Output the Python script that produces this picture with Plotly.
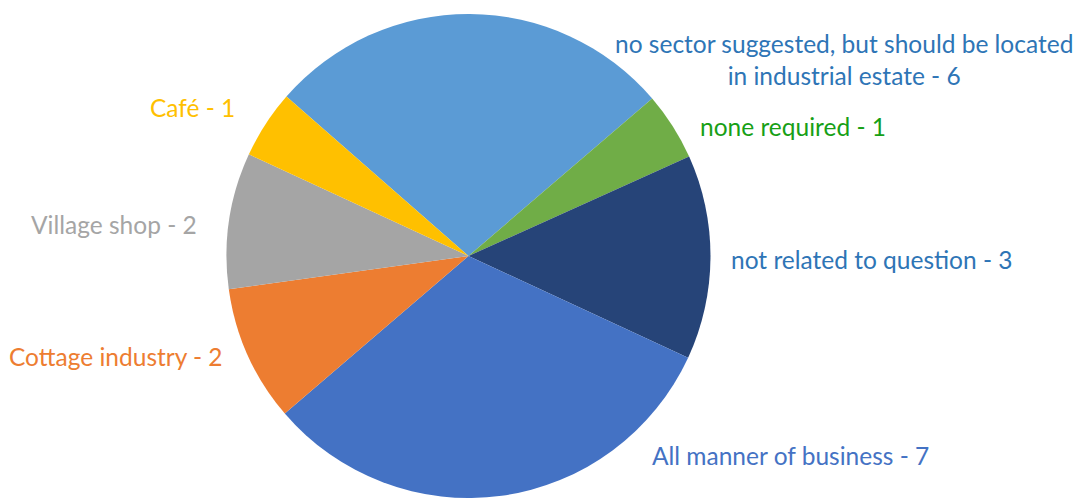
import plotly.graph_objects as go

labels = ["no sector suggested, but should be located<br>in industrial estate",
          "none required", "not related to question", "All manner of business",
          "Cottage industry", "Village shop", "Café"]
values = [6, 1, 3, 7, 2, 2, 1]
slice_colors = ["#5B9BD5", "#70AD47", "#264478", "#4472C4", "#ED7D31", "#A5A5A5", "#FFC000"]
text_colors = ["#2E75B6", "#17A016", "#2E75B6", "#4472C4", "#ED7D31", "#A5A5A5", "#FFC000"]
label_pos = [(844, 59), (793, 126), (872, 259), (790, 455), (116, 356), (114, 224), (192, 107)]

W, H = 1078, 498
fig = go.Figure(go.Pie(
    labels=labels, values=values, sort=False, direction="clockwise",
    rotation=-48.8, textinfo="none", hoverinfo="label+value",
    marker=dict(colors=slice_colors, line=dict(width=0)),
    domain=dict(x=[(468.5 - 242) / W, (468.5 + 242) / W], y=[0, 1 - 14 / H]),
    showlegend=False,
))

for lab, val, col, (px, py) in zip(labels, values, text_colors, label_pos):
    fig.add_annotation(text=f"{lab} - {val}", x=px / W, y=1 - py / H, xref="paper", yref="paper",
                       xanchor="center", yanchor="middle", showarrow=False,
                       font=dict(family="Lato", size=24.5, color=col), align="center")

fig.update_layout(width=W, height=H, margin=dict(l=0, r=0, t=0, b=0),
                  paper_bgcolor="white", plot_bgcolor="white")
fig.write_html("out.html")
